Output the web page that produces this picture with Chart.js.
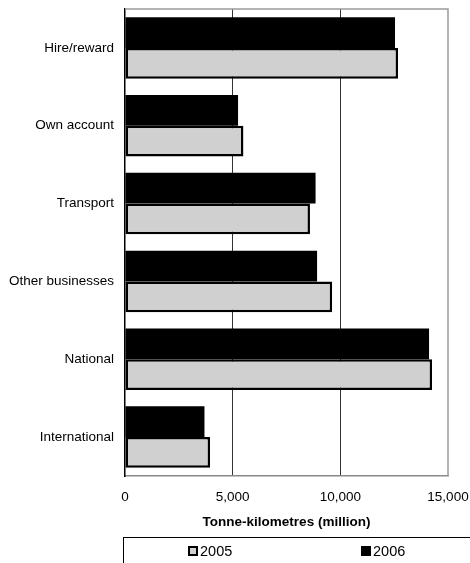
<!DOCTYPE html>
<html>
<head>
<meta charset="utf-8">
<script src="https://cdn.jsdelivr.net/npm/chart.js@4/dist/chart.umd.min.js"></script>
<style>
  html, body { margin: 0; padding: 0; background: #fff; }
  #wrap { width: 470px; height: 563px; }
</style>
</head>
<body>
<div id="wrap"><canvas id="freightChart" width="470" height="563"></canvas></div>
<script>
const categories = ["Hire/reward", "Own account", "Transport", "Other businesses", "National", "International"];
const values2005 = [12680, 5500, 8590, 9620, 14260, 3950];
const values2006 = [12540, 5250, 8850, 8920, 14120, 3690];
const xTicks = [0, 5000, 10000, 15000];

const FONT = "'Liberation Sans', Arial, sans-serif";

// grey frame on top / right of the plot
const frame = {
  id: "frame",
  beforeDatasetsDraw(chart) {
    const { ctx, chartArea: a } = chart;
    ctx.save();
    ctx.strokeStyle = "#9a9a9a";
    ctx.lineWidth = 1.5;
    ctx.beginPath();
    ctx.moveTo(a.left, a.top);
    ctx.lineTo(a.right, a.top);
    ctx.lineTo(a.right, a.bottom);
    ctx.stroke();
    ctx.restore();
  }
};

// boxed legend below the axis title, 2005 first
const boxLegend = {
  id: "boxLegend",
  afterDraw(chart) {
    const { ctx } = chart;
    ctx.save();
    ctx.strokeStyle = "#000";
    ctx.lineWidth = 1;
    ctx.strokeRect(123.5, 537.5, 400, 60);
    const items = chart.data.datasets.slice().reverse();
    const xs = [188, 361];
    ctx.font = "14.5px " + FONT;
    ctx.textBaseline = "middle";
    items.forEach((ds, i) => {
      const x = xs[i];
      ctx.fillStyle = ds.backgroundColor;
      ctx.fillRect(x, 546, 10, 10);
      ctx.strokeStyle = "#000";
      ctx.lineWidth = 2;
      ctx.strokeRect(x + 1, 547, 8, 8);
      ctx.fillStyle = "#000";
      ctx.fillText(ds.label, x + 12, 552);
    });
    ctx.restore();
  }
};

const noPad = s => { s.paddingLeft = 0; s.paddingRight = 0; s.paddingTop = 0; s.paddingBottom = 0; };

new Chart(document.getElementById("freightChart"), {
  type: "bar",
  data: {
    labels: categories,
    datasets: [
      {
        label: "2006",
        data: values2006,
        backgroundColor: "#000000",
        borderColor: "#000000",
        borderWidth: 0
      },
      {
        label: "2005",
        data: values2005,
        backgroundColor: "#d0d0d0",
        borderColor: "#000000",
        borderWidth: 2.5,
        borderSkipped: false
      }
    ]
  },
  options: {
    indexAxis: "y",
    responsive: false,
    animation: false,
    categoryPercentage: 0.79,
    barPercentage: 1,
    layout: { padding: { top: 9, right: 22, left: 0, bottom: 33 } },
    plugins: {
      legend: { display: false },
      tooltip: { enabled: false }
    },
    scales: {
      x: {
        min: 0,
        max: 15000,
        afterBuildTicks(s) { s.ticks = xTicks.map(v => ({ value: v })); },
        afterFit(s) { s.height = 563 - 33 - 476; noPad(s); },
        grid: {
          drawTicks: false,
          color(c) {
            if (c.tick.value === 0 || c.tick.value === 15000) return "rgba(0,0,0,0)";
            return "#333";
          },
          lineWidth: 1
        },
        border: { display: true, color: "#8a8a8a", width: 1.5 },
        ticks: {
          padding: 13,
          color: "#000",
          font: { family: FONT, size: 13.5 },
          callback: v => v.toLocaleString("en-US")
        },
        title: {
          display: true,
          text: "Tonne-kilometres (million)",
          color: "#000",
          font: { family: FONT, size: 13.5, weight: "bold" },
          padding: { top: 6, bottom: 0 }
        }
      },
      y: {
        afterFit(s) { s.width = 125; noPad(s); },
        grid: { display: false, drawTicks: false },
        border: { display: true, color: "#000", width: 1.5 },
        ticks: {
          padding: 11,
          color: "#000",
          font: { family: FONT, size: 13.5 }
        }
      }
    }
  },
  plugins: [frame, boxLegend]
});
</script>
</body>
</html>
